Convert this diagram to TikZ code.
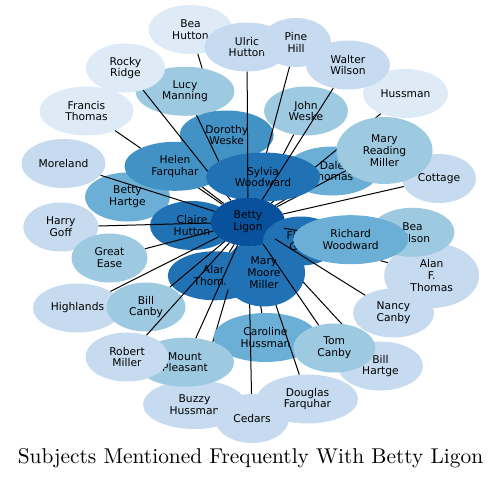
\documentclass[tikz,border=0pt]{standalone}
\usepackage{fontspec}
\usetikzlibrary{shapes.geometric}
\newfontfamily\labfont{DejaVu Sans}
\newfontfamily\titlefont{lmroman10-regular.otf}
\definecolor{cA}{HTML}{08519C}
\definecolor{cB}{HTML}{2171B5}
\definecolor{cC}{HTML}{4292C6}
\definecolor{cD}{HTML}{6BAED6}
\definecolor{cE}{HTML}{9ECAE1}
\definecolor{cF}{HTML}{C6DBEF}
\definecolor{cG}{HTML}{DEEBF7}
\tikzset{
  bub/.style={ellipse, inner sep=0pt, draw=none, align=center, text=black,
    font=\labfont\fontsize{10.7}{11.8}\selectfont},
  ghost/.style={ellipse, inner sep=0pt, draw=none},
  edge/.style={draw=black, line width=1pt},
  sz/.style 2 args={minimum width=#1, minimum height=#2}
}
\begin{document}
\begin{tikzpicture}[x=1pt, y=-1pt]
\useasboundingbox (0,0) rectangle (501,479);
% invisible anchors for the centre and the hidden one
\path node[ghost, sz={74}{48}] (betty) at (248,222) {};
\path node[ghost, sz={76}{49}] (flg) at (301,241) {};
\draw[edge] (betty) -- (flg);

\node[bub, fill=cG, sz={84}{49}] (bea) at (190.5,29.5) {Bea\\Hutton};
\draw[edge] (betty) -- (bea);
\node[bub, fill=cE, sz={99}{49}] (lucy) at (185,91.3) {Lucy\\Manning};
\node[bub, fill=cF, sz={85}{49}] (ulric) at (247,47) {Ulric\\Hutton};
\node[bub, fill=cG, sz={79}{49}] (rocky) at (125.5,68) {Rocky\\Ridge};
\node[bub, fill=cG, sz={94}{49}] (francis) at (86.5,111) {Francis\\Thomas};
\draw[edge] (betty) -- (francis);
\node[bub, fill=cF, sz={84}{49}] (moreland) at (63.5,163.5) {Moreland};
\node[bub, fill=cD, sz={85}{49}] (hartge) at (127.5,197) {Betty\\Hartge};
\draw[edge] (betty) -- (hartge);
\node[bub, fill=cC, sz={101}{49}] (helen) at (175,166.3) {Helen\\Farquhar};
\node[bub, fill=cC, sz={94}{49}] (dorothy) at (226.7,135) {Dorothy\\Weske};
\draw[edge] (betty) -- (lucy);
\draw[edge] (betty) -- (rocky);
\draw[edge] (betty) -- (helen);
\draw[edge] (betty) -- (dorothy);
\node[bub, fill=cE, sz={84}{49}] (john) at (306,111) {John\\Weske};
\draw[edge] (betty) -- (john);
\node[bub, fill=cF, sz={70}{49}] (pine) at (296,42.5) {Pine\\Hill};
\draw[edge] (betty) -- (pine);
\node[bub, fill=cG, sz={85}{49}] (hussman) at (405.5,93.5) {Hussman};
\node[bub, fill=cF, sz={84}{49}] (walter) at (348,65) {Walter\\Wilson};
\node[bub, fill=cD, sz={94}{49}] (dale) at (332,171) {Dale\\Thomas};
\draw[edge] (betty) -- (hussman);
\draw[edge] (betty) -- (dale);
\node[bub, fill=cF, sz={74}{49}] (cottage) at (439,178.5) {Cottage};
\node[bub, fill=cE, sz={96}{67}] (mrm) at (384.5,150.5) {Mary\\Reading\\Miller};
\draw[edge] (betty) -- (mrm);
\draw[edge] (betty) -- (cottage);
\node[bub, fill=cB, sz={114}{49}] (sylvia) at (263,177) {Sylvia\\Woodward};
\draw[edge] (betty) -- (sylvia);
\draw[edge] (betty) -- (ulric);
\draw[edge] (betty) -- (walter);
\node[bub, fill=cB, sz={84}{49}] (claire) at (192,225.5) {Claire\\Hutton};
\draw[edge] (betty) -- (claire);
\draw[edge] (betty) -- (moreland);
\node[bub, fill=cF, sz={75}{49}] (harry) at (60.8,227) {Harry\\Goff};
\node[bub, fill=cE, sz={76}{49}] (greatease) at (109.5,258) {Great\\Ease};
\draw[edge] (betty) -- (harry);
\draw[edge] (betty) -- (greatease);
\node[bub, fill=cF, sz={89}{49}] (highlands) at (77.5,308) {Highlands};
\node[bub, fill=cE, sz={79}{49}] (billcanby) at (146,307) {Bill\\Canby};
\draw[edge] (betty) -- (highlands);
\node[bub, fill=cB, sz={94}{49}] (alan) at (214.8,275.8) {Alan\\Thomas};
\draw[edge] (betty) -- (alan);
\draw[edge] (betty) -- (billcanby);
\node[bub, fill=cF, sz={103}{49}] (buzzy) at (194.5,404.5) {Buzzy\\Hussman};
\draw[edge] (betty) -- (buzzy);
\node[bub, fill=cD, sz={104}{49}] (caroline) at (265.5,337.5) {Caroline\\Hussman};
\draw[edge] (betty) -- (caroline);
\node[bub, fill=cF, sz={74}{49}] (cedars) at (252,418.5) {Cedars};
\draw[edge] (betty) -- (cedars);
\node[bub, fill=cF, sz={101}{49}] (douglas) at (307.5,399) {Douglas\\Farquhar};
\draw[edge] (betty) -- (douglas);
\node[bub, fill=cF, sz={85}{49}] (billhartge) at (380.5,366) {Bill\\Hartge};
\draw[edge] (betty) -- (billhartge);
\node[bub, fill=cB, sz={82}{68}] (mmm) at (264,272.5) {Mary\\Moore\\Miller};
\draw[edge] (betty) -- (mmm);
\node[bub, fill=cE, sz={98}{49}] (mount) at (185,362.2) {Mount\\Pleasant};
\draw[edge] (betty) -- (mount);
\node[bub, fill=cF, sz={83}{49}] (robert) at (127,357) {Robert\\Miller};
\draw[edge] (betty) -- (robert);
\node[bub, fill=cE, sz={82}{49}] (tom) at (334.3,348) {Tom\\Canby};
% the centre
\node[bub, fill=cA, sz={74}{48}] (bettyL) at (betty) {Betty\\Ligon};
\node[bub, fill=cF, sz={95}{65}] (aft) at (431.7,275.5) {Alan\\F.\\Thomas};
\draw[edge] (betty) -- (aft);
\node[bub, fill=cE, sz={84}{49}] (beawilson) at (412.5,232.3) {Bea\\Wilson};
\draw[edge] (betty) -- (beawilson);
\node[bub, fill=cB, sz={76}{49}] (flgL) at (flg) {Floyd\\Gott};
\node[bub, fill=cD, sz={115}{49}] (richard) at (350.7,239.7) {Richard\\Woodward};
\draw[edge] (betty) -- (richard);
\node[bub, fill=cF, sz={81}{49}] (nancy) at (393.5,313) {Nancy\\Canby};
\draw[edge] (betty) -- (nancy);
\draw[edge] (betty) -- (tom);

\node[font=\titlefont\fontsize{21.4}{25}\selectfont, anchor=base, inner sep=0pt] (title) at (250.5,463) {Subjects Mentioned Frequently With Betty Ligon};
\end{tikzpicture}
\end{document}
